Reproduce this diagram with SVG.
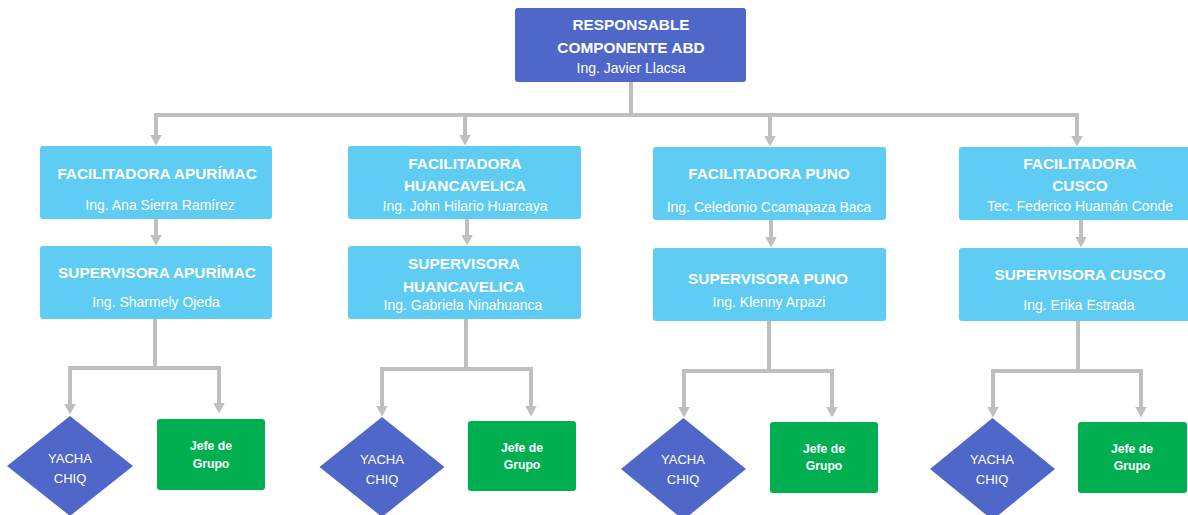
<svg xmlns="http://www.w3.org/2000/svg" width="1188" height="515" viewBox="0 0 1188 515">
<defs>
<style>
.top{fill:#4F67C9}
.lb{fill:#5ECCF3}
.gr{fill:#00B050}
.dm{fill:#4F67C9}
text{fill:#FFFFFF;font-family:"Liberation Sans",Arial,sans-serif;text-anchor:middle}
.t{font-size:15.4px;font-weight:bold}
.n{font-size:14px}
.y{font-size:13px}
.j{font-size:12.2px;font-weight:bold}
.c{fill:none;stroke:#BFBFBF;stroke-width:4;stroke-linejoin:miter}
</style>
<marker id="ah" markerUnits="userSpaceOnUse" markerWidth="12" markerHeight="12" viewBox="0 0 12 12" refX="0.5" refY="6" orient="auto">
<path d="M0,0 L11,6 L0,12 z" fill="#BFBFBF"/>
</marker>
</defs>
<rect width="1188" height="515" fill="#FFFFFF"/>
<g id="connectors">
<path class="c" d="M631,82 V115 H156 V135" marker-end="url(#ah)"/>
<path class="c" d="M631,115 H465 V135" marker-end="url(#ah)"/>
<path class="c" d="M631,115 H770 V136" marker-end="url(#ah)"/>
<path class="c" d="M631,115 H1077 V136" marker-end="url(#ah)"/>
<path class="c" d="M156,219 V235" marker-end="url(#ah)"/>
<path class="c" d="M467,219 V235" marker-end="url(#ah)"/>
<path class="c" d="M771,220 V237" marker-end="url(#ah)"/>
<path class="c" d="M1081,220 V237" marker-end="url(#ah)"/>
<path class="c" d="M155,319 V368 H70 V404" marker-end="url(#ah)"/>
<path class="c" d="M155,368 H219 V403" marker-end="url(#ah)"/>
<path class="c" d="M466,319 V369 H382 V406" marker-end="url(#ah)"/>
<path class="c" d="M466,369 H531 V406" marker-end="url(#ah)"/>
<path class="c" d="M769,321 V371 H684 V407" marker-end="url(#ah)"/>
<path class="c" d="M769,371 H832 V407" marker-end="url(#ah)"/>
<path class="c" d="M1078,321 V371 H993 V407" marker-end="url(#ah)"/>
<path class="c" d="M1078,371 H1141 V407" marker-end="url(#ah)"/>
</g>
<g id="responsable">
<rect class="top" x="515" y="8" width="231" height="74" rx="3"/>
<text class="t" x="631" y="29.5">RESPONSABLE</text>
<text class="t" x="631" y="52.5">COMPONENTE ABD</text>
<text class="n" x="631" y="73">Ing. Javier Llacsa</text>
</g>
<g id="fac-apurimac">
<rect class="lb" x="40" y="146" width="232" height="73" rx="3"/>
<text class="t" x="157" y="179">FACILITADORA APURÍMAC</text>
<text class="n" x="160" y="210">Ing. Ana Sierra Ramírez</text>
</g>
<g id="fac-huancavelica">
<rect class="lb" x="348" y="146" width="233" height="73" rx="3"/>
<text class="t" x="465" y="169">FACILITADORA</text>
<text class="t" x="465" y="191">HUANCAVELICA</text>
<text class="n" x="465" y="211">Ing. John Hilario Huarcaya</text>
</g>
<g id="fac-puno">
<rect class="lb" x="653" y="147" width="233" height="73" rx="3"/>
<text class="t" x="769" y="179">FACILITADORA PUNO</text>
<text class="n" x="769" y="212">Ing. Celedonio Ccamapaza Baca</text>
</g>
<g id="fac-cusco">
<rect class="lb" x="959" y="147" width="233" height="73" rx="3"/>
<text class="t" x="1080" y="169">FACILITADORA</text>
<text class="t" x="1080" y="191">CUSCO</text>
<text class="n" x="1080" y="211">Tec. Federico Huamán Conde</text>
</g>
<g id="sup-apurimac">
<rect class="lb" x="40" y="246" width="232" height="73" rx="3"/>
<text class="t" x="157" y="278">SUPERVISORA APURÍMAC</text>
<text class="n" x="156" y="307">Ing. Sharmely Ojeda</text>
</g>
<g id="sup-huancavelica">
<rect class="lb" x="348" y="246" width="233" height="73" rx="3"/>
<text class="t" x="464" y="269">SUPERVISORA</text>
<text class="t" x="464" y="292">HUANCAVELICA</text>
<text class="n" x="463" y="310">Ing. Gabriela Ninahuanca</text>
</g>
<g id="sup-puno">
<rect class="lb" x="653" y="248" width="233" height="73" rx="3"/>
<text class="t" x="768" y="284">SUPERVISORA PUNO</text>
<text class="n" x="769" y="307">Ing. Klenny Arpazi</text>
</g>
<g id="sup-cusco">
<rect class="lb" x="959" y="248" width="233" height="73" rx="3"/>
<text class="t" x="1080" y="280">SUPERVISORA CUSCO</text>
<text class="n" x="1079" y="310">Ing. Erika Estrada</text>
</g>
<g id="yacha-apurimac">
<polygon class="dm" points="70,416 133,466 70,516 7,466"/>
<text class="y" x="70" y="462.5">YACHA</text>
<text class="y" x="70" y="482.5">CHIQ</text>
</g>
<g id="jefe-apurimac">
<rect class="gr" x="157" y="419" width="108" height="71" rx="3"/>
<text class="j" x="211" y="450">Jefe de</text>
<text class="j" x="211" y="468">Grupo</text>
</g>
<g id="yacha-huancavelica">
<polygon class="dm" points="382,417 444.5,467 382,517 319.5,467"/>
<text class="y" x="382" y="463.5">YACHA</text>
<text class="y" x="382" y="483.5">CHIQ</text>
</g>
<g id="jefe-huancavelica">
<rect class="gr" x="468" y="421" width="108" height="70" rx="3"/>
<text class="j" x="522" y="452">Jefe de</text>
<text class="j" x="522" y="469">Grupo</text>
</g>
<g id="yacha-puno">
<polygon class="dm" points="683.5,418 746,469 683.5,520 621,469"/>
<text class="y" x="683" y="464">YACHA</text>
<text class="y" x="683" y="484">CHIQ</text>
</g>
<g id="jefe-puno">
<rect class="gr" x="770" y="422" width="108" height="71" rx="3"/>
<text class="j" x="824" y="453">Jefe de</text>
<text class="j" x="824" y="470">Grupo</text>
</g>
<g id="yacha-cusco">
<polygon class="dm" points="992.5,418 1055,469 992.5,520 930,469"/>
<text class="y" x="992" y="464">YACHA</text>
<text class="y" x="992" y="484">CHIQ</text>
</g>
<g id="jefe-cusco">
<rect class="gr" x="1078" y="422" width="109" height="71" rx="3"/>
<text class="j" x="1132" y="453">Jefe de</text>
<text class="j" x="1132" y="470">Grupo</text>
</g>
</svg>
